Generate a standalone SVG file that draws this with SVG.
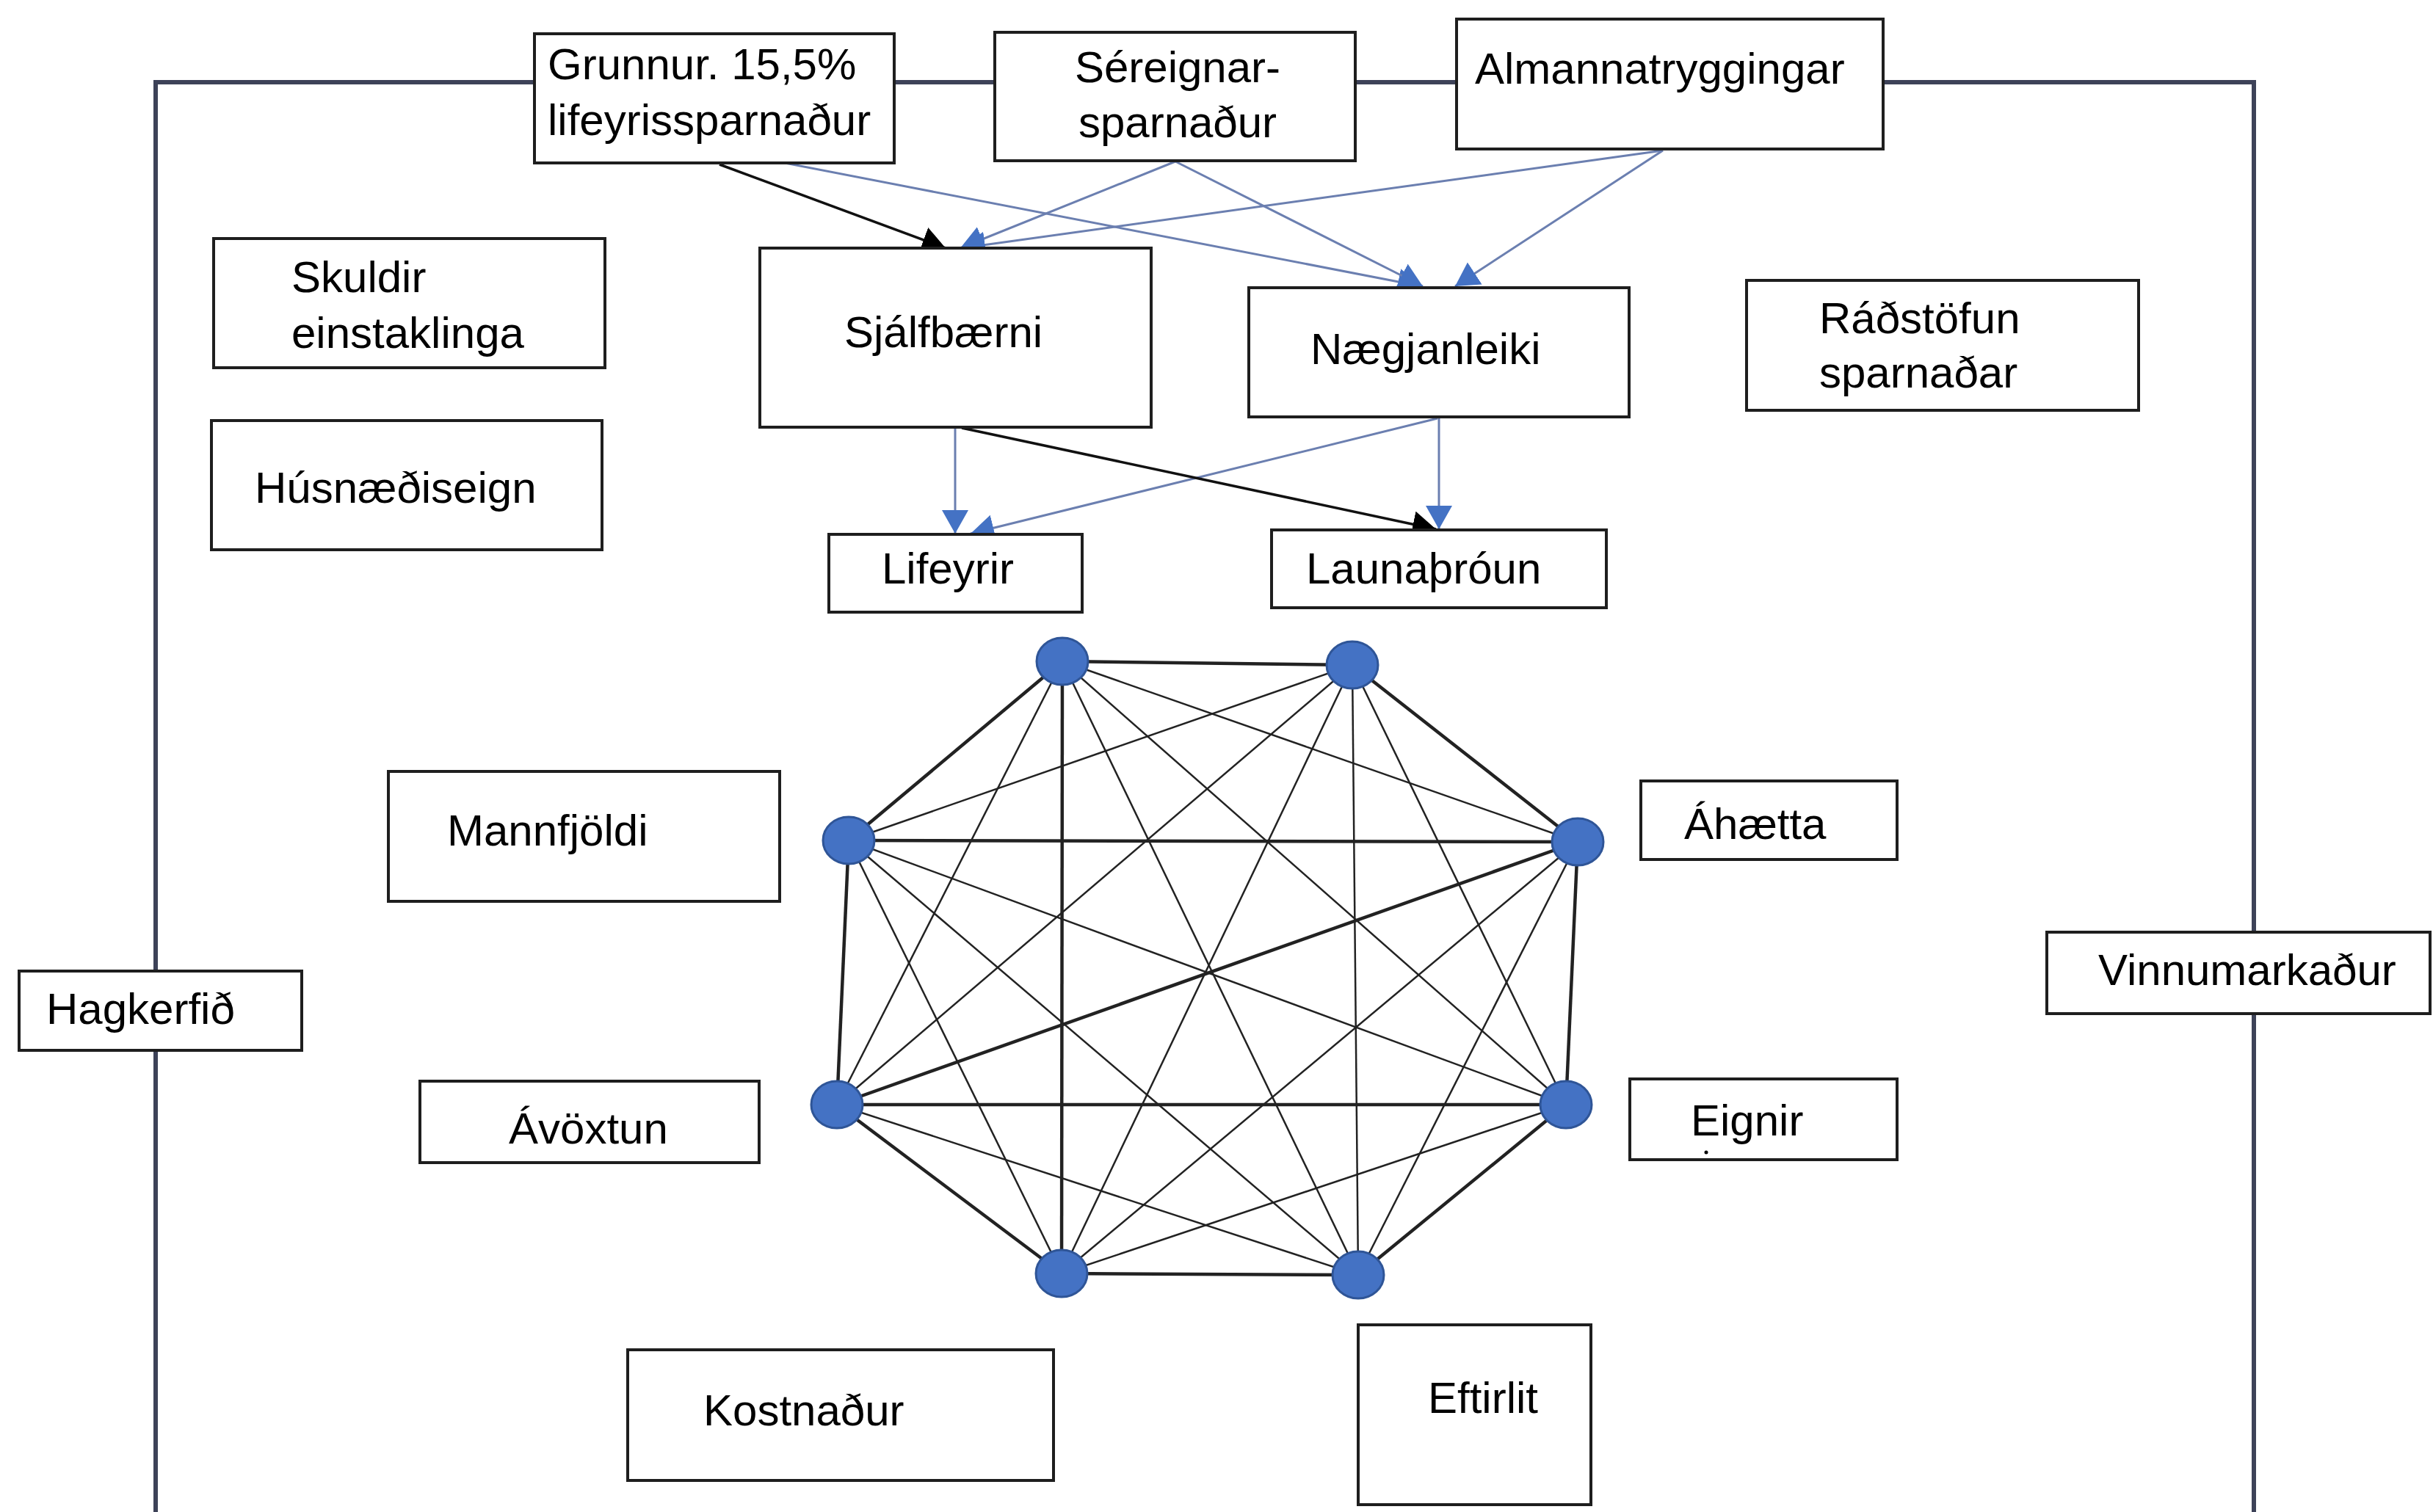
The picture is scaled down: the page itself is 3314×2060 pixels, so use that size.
<svg xmlns="http://www.w3.org/2000/svg" width="3314" height="2060" viewBox="0 0 3314 2060">
<style>
.box{fill:#fff;stroke:#1e1e1e;stroke-width:4}
.t{font-family:"Liberation Sans",Arial,sans-serif;font-size:60px;fill:#000}
.frame{fill:none;stroke:#3d4258;stroke-width:6}
.blue{stroke:#6b7fb0;stroke-width:3;fill:none;marker-end:url(#ab)}
.black{stroke:#111;stroke-width:3.5;fill:none;marker-end:url(#ak)}
.outer{stroke:#222;stroke-width:4.5}
.inner{stroke:#222;stroke-width:2.5}
.node{fill:#4472c4;stroke:#2f5597;stroke-width:3}
</style>
<defs>
<marker id="ab" markerUnits="userSpaceOnUse" markerWidth="40" markerHeight="40" refX="32" refY="18" orient="auto" viewBox="0 0 40 40">
<path d="M0,0 L32,18 L0,36 z" fill="#4472c4"/>
</marker>
<marker id="ak" markerUnits="userSpaceOnUse" markerWidth="40" markerHeight="40" refX="32" refY="18" orient="auto" viewBox="0 0 40 40">
<path d="M0,0 L32,18 L0,36 z" fill="#000"/>
</marker>
</defs>
<rect width="3314" height="2060" fill="#fff"/>
<g id="frame">
<path class="frame" d="M212,2060 V112 H3070 V2060"/>
</g>
<g id="connectors">
<line class="black" x1="980" y1="224" x2="1288" y2="338"/>
<line class="blue" x1="1012" y1="211" x2="1936" y2="390"/>
<line class="blue" x1="1601" y1="220" x2="1308" y2="338"/>
<line class="blue" x1="1601" y1="220" x2="1938" y2="390"/>
<line class="blue" x1="2265" y1="205" x2="1310" y2="338"/>
<line class="blue" x1="2265" y1="205" x2="1982" y2="390"/>
<line class="blue" x1="1301" y1="583" x2="1301" y2="727"/>
<line class="blue" x1="1958" y1="570" x2="1322" y2="727"/>
<line class="black" x1="1310" y1="583" x2="1956" y2="721"/>
<line class="blue" x1="1960" y1="570" x2="1960" y2="721"/>
</g>
<g id="graph-edges">
<line class="outer" x1="1447" y1="901" x2="1842" y2="906"/>
<line class="outer" x1="1842" y1="906" x2="2149" y2="1147"/>
<line class="outer" x1="2149" y1="1147" x2="2133" y2="1505"/>
<line class="outer" x1="2133" y1="1505" x2="1850" y2="1737"/>
<line class="outer" x1="1850" y1="1737" x2="1446" y2="1735"/>
<line class="outer" x1="1446" y1="1735" x2="1140" y2="1505"/>
<line class="outer" x1="1140" y1="1505" x2="1156" y2="1145"/>
<line class="outer" x1="1156" y1="1145" x2="1447" y2="901"/>
<line class="inner" x1="1447" y1="901" x2="2149" y2="1147"/>
<line class="inner" x1="1447" y1="901" x2="2133" y2="1505"/>
<line class="inner" x1="1447" y1="901" x2="1850" y2="1737"/>
<line class="outer" x1="1447" y1="901" x2="1446" y2="1735"/>
<line class="inner" x1="1447" y1="901" x2="1140" y2="1505"/>
<line class="inner" x1="1842" y1="906" x2="2133" y2="1505"/>
<line class="inner" x1="1842" y1="906" x2="1850" y2="1737"/>
<line class="inner" x1="1842" y1="906" x2="1446" y2="1735"/>
<line class="inner" x1="1842" y1="906" x2="1140" y2="1505"/>
<line class="inner" x1="1842" y1="906" x2="1156" y2="1145"/>
<line class="inner" x1="2149" y1="1147" x2="1850" y2="1737"/>
<line class="inner" x1="2149" y1="1147" x2="1446" y2="1735"/>
<line class="outer" x1="2149" y1="1147" x2="1140" y2="1505"/>
<line class="outer" x1="2149" y1="1147" x2="1156" y2="1145"/>
<line class="inner" x1="2133" y1="1505" x2="1446" y2="1735"/>
<line class="outer" x1="2133" y1="1505" x2="1140" y2="1505"/>
<line class="inner" x1="2133" y1="1505" x2="1156" y2="1145"/>
<line class="inner" x1="1850" y1="1737" x2="1140" y2="1505"/>
<line class="inner" x1="1850" y1="1737" x2="1156" y2="1145"/>
<line class="inner" x1="1446" y1="1735" x2="1156" y2="1145"/>
</g>
<g id="graph-nodes">
<ellipse class="node" cx="1447" cy="901" rx="35" ry="32"/>
<ellipse class="node" cx="1842" cy="906" rx="35" ry="32"/>
<ellipse class="node" cx="2149" cy="1147" rx="35" ry="32"/>
<ellipse class="node" cx="2133" cy="1505" rx="35" ry="32"/>
<ellipse class="node" cx="1850" cy="1737" rx="35" ry="32"/>
<ellipse class="node" cx="1446" cy="1735" rx="35" ry="32"/>
<ellipse class="node" cx="1140" cy="1505" rx="35" ry="32"/>
<ellipse class="node" cx="1156" cy="1145" rx="35" ry="32"/>
</g>
<g id="grunnur"><rect class="box" x="728" y="46" width="490" height="176"/><text class="t" x="746" y="108">Grunnur. 15,5%</text><text class="t" x="746" y="184">lifeyrissparnaður</text></g>
<g id="sereignar"><rect class="box" x="1355" y="44" width="491" height="175"/><text class="t" x="1604" y="112" text-anchor="middle">Séreignar-</text><text class="t" x="1604" y="187" text-anchor="middle">sparnaður</text></g>
<g id="almannatryggingar"><rect class="box" x="1984" y="26" width="581" height="177"/><text class="t" x="2009" y="114">Almannatryggingar</text></g>
<g id="skuldir"><rect class="box" x="291" y="325" width="533" height="176"/><text class="t" x="397" y="398">Skuldir</text><text class="t" x="397" y="474">einstaklinga</text></g>
<g id="sjalfbaerni"><rect class="box" x="1035" y="338" width="533" height="244"/><text class="t" x="1150" y="473">Sjálfbærni</text></g>
<g id="naegjanleiki"><rect class="box" x="1701" y="392" width="518" height="176"/><text class="t" x="1785" y="496">Nægjanleiki</text></g>
<g id="radstofun"><rect class="box" x="2379" y="382" width="534" height="177"/><text class="t" x="2478" y="454">Ráðstöfun</text><text class="t" x="2478" y="528">sparnaðar</text></g>
<g id="husnaediseign"><rect class="box" x="288" y="573" width="532" height="176"/><text class="t" x="347" y="685">Húsnæðiseign</text></g>
<g id="lifeyrir"><rect class="box" x="1129" y="728" width="345" height="106"/><text class="t" x="1201" y="795">Lifeyrir</text></g>
<g id="launathroun"><rect class="box" x="1732" y="722" width="456" height="106"/><text class="t" x="1779" y="795">Launaþróun</text></g>
<g id="mannfjoldi"><rect class="box" x="529" y="1051" width="533" height="177"/><text class="t" x="609" y="1152">Mannfjöldi</text></g>
<g id="ahaetta"><rect class="box" x="2235" y="1064" width="349" height="107"/><text class="t" x="2294" y="1143">Áhætta</text></g>
<g id="hagkerfid"><rect class="box" x="26" y="1323" width="385" height="108"/><text class="t" x="63" y="1395">Hagkerfið</text></g>
<g id="vinnumarkadur"><rect class="box" x="2788" y="1270" width="522" height="111"/><text class="t" x="2858" y="1342">Vinnumarkaður</text></g>
<g id="avoxtun"><rect class="box" x="572" y="1473" width="462" height="111"/><text class="t" x="693" y="1558">Ávöxtun</text></g>
<g id="eignir"><rect class="box" x="2220" y="1470" width="364" height="110"/><text class="t" x="2303" y="1547">Eignir</text><circle cx="2324" cy="1570" r="2.5" fill="#000"/></g>
<g id="kostnadur"><rect class="box" x="855" y="1839" width="580" height="178"/><text class="t" x="958" y="1942">Kostnaður</text></g>
<g id="eftirlit"><rect class="box" x="1850" y="1805" width="317" height="245"/><text class="t" x="1945" y="1925">Eftirlit</text></g>
</svg>
